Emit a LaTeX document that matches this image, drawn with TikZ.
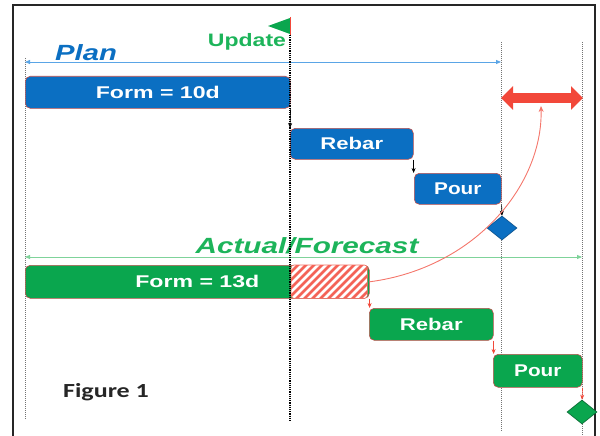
\documentclass[tikz,border=0pt]{standalone}
\usepackage{graphicx}
\usepackage{fontspec}
\setmainfont{Liberation Sans}
\newfontfamily\figfont{Carlito}
\usetikzlibrary{arrows.meta,shapes.geometric}

% horizontally widened text
\newcommand{\widetext}[2]{\scalebox{#1}[1]{#2}}

\definecolor{planblue}{HTML}{0B6FC2}
\definecolor{planline}{HTML}{5AA5E6}
\definecolor{actgreen}{HTML}{0AA64E}
\definecolor{txtgreen}{HTML}{1DB45A}
\definecolor{actline}{HTML}{7FD39A}
\definecolor{delayred}{HTML}{F2483A}
\definecolor{curvered}{HTML}{F4766B}
\definecolor{edgered}{HTML}{C0504D}

\tikzset{
  task/.style={rounded corners=5pt, draw=edgered, line width=0.6pt, text=white,
    font=\fontsize{17}{17}\selectfont\bfseries, inner sep=0pt, anchor=north west},
  plantask/.style={task, fill=planblue},
  acttask/.style={task, fill=actgreen},
  milestone/.style={diamond, inner sep=0pt, minimum width=30pt, minimum height=24pt, line width=0.6pt},
  guide/.style={black!55, line width=0.8pt, dash pattern=on 1pt off 1pt},
  updateline/.style={black, line width=1.1pt, dash pattern=on 1.2pt off 1pt},
  planlink/.style={black, line width=0.6pt, -{Stealth[length=5pt,width=4pt]}},
  actlink/.style={delayred, line width=0.6pt, -{Stealth[length=5pt,width=4pt]}},
}

\begin{document}
\begin{tikzpicture}[x=1pt, y=-1pt]
\useasboundingbox (0,0) rectangle (600,436);

% outer frame
\draw[black!85, line width=1.4pt] (13,436) -- (13,5) -- (595,5) -- (595,436);

% time guides
\coordinate (g0t) at (25,58);   \coordinate (g0b) at (25,420);
\coordinate (gut) at (290,35);  \coordinate (gub) at (290,422);
\coordinate (g1t) at (501,42);  \coordinate (g1b) at (501,432);
\coordinate (g2t) at (582,42);  \coordinate (g2b) at (582,436);
\draw[guide] (g0t) -- (g0b);
\draw[guide] (g1t) -- (g1b);
\draw[guide] (g2t) -- (g2b);

% update flag
\coordinate (polet) at (290,17);
\coordinate (poleb) at (290,36);
\fill[actgreen] (268,26) -- (290,18) -- (290,34) -- cycle;
\draw[delayred, line width=0.8pt] (polet) -- (poleb);
\node[anchor=base, text=txtgreen, font=\fontsize{18}{18}\selectfont\bfseries] (update) at (247,47) {\widetext{1.28}{Update}};

% plan span
\coordinate (planL) at (25,62);
\coordinate (planR) at (501,62);
\draw[planline, line width=0.8pt, {Triangle[length=5pt,width=4pt]}-{Triangle[length=5pt,width=4pt]}] (planL) -- (planR);
\node[anchor=base, text=planblue, font=\fontsize{22}{22}\selectfont\bfseries\itshape] (plan) at (86,61) {\widetext{1.33}{Plan}};

% plan tasks
\node[plantask, minimum width=265pt, minimum height=32pt] (form1) at (25,76) {\widetext{1.36}{Form = 10d}};
\node[plantask, minimum width=123pt, minimum height=31pt] (rebar1) at (290,128) {\widetext{1.3}{Rebar}};
\node[plantask, minimum width=87pt, minimum height=31pt] (pour1) at (414,173) {\widetext{1.22}{Pour}};
\node[milestone, fill=planblue, draw=planblue!70!black] (ms1) at (502,228) {};

\draw[planlink] (form1.south east) -- (rebar1.north west);
\draw[planlink] (rebar1.south east) -- (rebar1.south east |- pour1.north);
\draw[planlink] (pour1.south east) -- (ms1.north);

% actual / forecast span
\coordinate (actL) at (25,257);
\coordinate (actR) at (582,257);
\draw[actline, line width=0.8pt, {Triangle[length=5pt,width=4pt]}-{Triangle[length=5pt,width=4pt]}] (actL) -- (actR);
\node[anchor=base, text=txtgreen, font=\fontsize{22}{22}\selectfont\bfseries\itshape] (actual) at (307,253) {\widetext{1.35}{Actual/Forecast}};

% actual tasks
\node[acttask, minimum width=344pt, minimum height=33pt] (form2) at (25,265) {\widetext{1.36}{Form = 13d}};
\node[anchor=north west, inner sep=0pt, minimum width=76pt, minimum height=33pt,
      rounded corners=3pt, fill=white] (slip) at (291,265) {};
% slipped portion: diagonal red hatching
\begin{scope}
  \clip[rounded corners=3pt] (slip.north west) rectangle (slip.south east);
  \foreach \s in {0,8,...,120}
    \draw[delayred!85, line width=2.8pt] (255+\s,300) -- (291+\s,264);
\end{scope}
\draw[delayred!80, line width=0.6pt, rounded corners=3pt] (slip.north west) rectangle (slip.south east);
\node[acttask, minimum width=124pt, minimum height=32pt] (rebar2) at (369,308) {\widetext{1.3}{Rebar}};
\node[acttask, minimum width=89pt, minimum height=33pt] (pour2) at (493,354) {\widetext{1.22}{Pour}};
\node[milestone, fill=actgreen, draw=actgreen!60!black] (ms2) at (582,412) {};

\draw[actlink] (form2.south east) -- (form2.south east |- rebar2.north);
\draw[actlink] (rebar2.south east) -- (rebar2.south east |- pour2.north);
\draw[actlink] (pour2.south east) -- (ms2.north);

% update line drawn over the bars
\draw[updateline] (gut) -- (gub);

% delay
\coordinate (dl) at (501,98);
\coordinate (dr) at (583,98);
\draw[delayred, line width=9pt, {Triangle[length=12pt,width=23pt]}-{Triangle[length=12pt,width=23pt]}] (dl) -- (dr);
\coordinate (delaytip) at (541,106);
\draw[curvered, line width=0.9pt, -{Stealth[length=6pt,width=5pt]}] (form2.east) .. controls (475,268) and (543,185) .. (delaytip);

% caption
\node[anchor=base, font=\fontsize{20}{20}\figfont\bfseries, text=black!85] (caption) at (106,397) {\widetext{1.3}{Figure 1}};
\end{tikzpicture}
\end{document}
